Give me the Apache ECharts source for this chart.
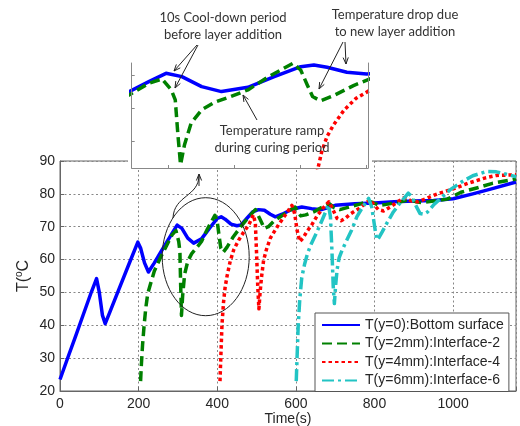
<!DOCTYPE html>
<html>
<head>
<meta charset="utf-8">
<script src="https://cdn.jsdelivr.net/npm/echarts@6/dist/echarts.min.js"></script>
<style>
html, body { margin: 0; padding: 0; background: #fff; }
#chart { width: 520px; height: 426px; }
</style>
</head>
<body>
<div id="chart"></div>
<script>
// Data (time in s, temperature in C)
var seriesNames = ['T(y=0):Bottom surface', 'T(y=2mm):Interface-2', 'T(y=4mm):Interface-4', 'T(y=6mm):Interface-6'];

var timeBottom = [0, 20, 40, 60, 80, 93, 100, 108, 115, 125, 150, 175, 198, 205, 215, 225, 240, 255, 270, 285, 298, 310, 325, 340, 360, 380, 400, 410, 420, 435, 450, 460, 475, 490, 505, 520, 535, 548, 565, 590, 615, 640, 665, 700, 750, 800, 850, 900, 950, 1000, 1050, 1100, 1160];
var tempBottom = [23.5, 30.2, 36.8, 43.5, 50.2, 54.2, 50, 43, 40.5, 43.5, 51, 58.5, 65.3, 63.5, 59, 56.2, 59, 62, 65, 68, 70.5, 69.5, 66.5, 65, 66.3, 69.5, 72.5, 73, 72.3, 70.8, 70.3, 70.5, 72.5, 74.5, 75.2, 75, 73.8, 73, 73.8, 75.3, 76, 75.5, 75.2, 76.5, 77, 77.2, 77.6, 77.8, 78, 78.5, 80, 81.6, 83.6];

var timeIf2 = [205, 207, 210, 214, 218, 223, 230, 240, 255, 270, 285, 295, 302, 305, 307, 309, 312, 317, 325, 335, 347, 360, 375, 394, 400, 405, 409, 415, 425, 440, 460, 480, 497, 508, 520, 530, 545, 570, 598, 605, 612, 625, 645, 665, 685, 697, 712, 730, 760, 785, 797, 812, 830, 860, 890, 905, 920, 950, 985, 1020, 1060, 1100, 1160];
var tempIf2 = [23, 28, 34, 40, 45, 49.5, 52.5, 56.5, 60.5, 64, 67.5, 68.8, 65.5, 62.5, 52, 43, 49, 55.5, 59.5, 61.8, 63.5, 65.5, 69.3, 73.5, 71.5, 67, 63.5, 62.2, 63.8, 66.8, 70, 73, 75.2, 72.5, 69.5, 70, 71.8, 73.8, 76, 74.5, 73.3, 73.6, 74.5, 75.8, 77, 75.8, 75.2, 75.8, 76.8, 77.8, 77.3, 76.5, 76.8, 77.4, 78.3, 77.6, 77.3, 77.8, 78.4, 80.5, 81.8, 83.2, 84.5];

var timeIf4 = [407, 409, 412, 416, 420, 425, 433, 442, 455, 467, 480, 492, 497, 500, 503, 506, 509, 513, 518, 525, 535, 545, 557, 570, 590, 597, 603, 610, 618, 628, 640, 655, 670, 684, 695, 705, 715, 725, 740, 760, 789, 800, 810, 823, 840, 858, 875, 885, 895, 910, 930, 960, 1000, 1040, 1080, 1110, 1160];
var tempIf4 = [23, 30, 40, 47, 51.5, 55, 59.5, 63, 66, 68.3, 70.5, 73.6, 71, 62, 52, 45, 50, 55, 59.8, 63, 66.5, 68.5, 70.8, 73, 76.5, 74, 69, 65.5, 66.5, 68.5, 70.5, 73.5, 75.8, 77.6, 75, 72.5, 71.8, 72.5, 74, 75.5, 78.2, 76.5, 75.2, 74.8, 76, 77.5, 78.8, 78.3, 77.8, 77.6, 78.5, 80, 81.5, 83.3, 84.8, 85.6, 85.8];

var timeIf6 = [601, 603, 606, 610, 615, 622, 630, 640, 652, 665, 683, 688, 692, 695, 698, 701, 705, 710, 718, 730, 742, 755, 770, 785, 793, 798, 803, 806, 812, 820, 832, 848, 865, 886, 895, 905, 916, 925, 935, 950, 970, 992, 1020, 1050, 1085, 1110, 1135, 1160];
var tempIf6 = [23, 30, 40, 48, 54.5, 58.5, 62, 65, 68, 71.5, 76.6, 73, 62, 52, 46.6, 52, 57, 60.5, 63, 66, 69, 73, 76, 78.6, 76, 72, 68, 66, 66.8, 68.5, 71.2, 74.5, 77.2, 80.2, 79.2, 76.5, 74, 73.8, 74.5, 76.6, 78.8, 81.2, 83.5, 85.5, 86.8, 86.7, 86, 85.2];

var xTicks = [0, 200, 400, 600, 800, 1000];
var yTicks = [20, 30, 40, 50, 60, 70, 80, 90];
var insetXTicks = [300, 350, 400, 450];
var insetYTicks = [50, 60, 70];

function pairs(t, v) {
    return t.map(function (x, i) { return [x, v[i]]; });
}

var styles = [
    { color: '#0000ff', type: 'solid' },
    { color: '#008000', type: [10, 5] },
    { color: '#ff0000', type: [3.5, 3] },
    { color: '#22c4c4', type: [12, 4, 3, 4] }
];
var allData = [
    pairs(timeBottom, tempBottom),
    pairs(timeIf2, tempIf2),
    pairs(timeIf4, tempIf4),
    pairs(timeIf6, tempIf6)
];

var series = [];
// main plot, then the zoomed inset (same data, other axes)
[0, 1].forEach(function (g) {
    allData.forEach(function (d, i) {
        series.push({
            name: seriesNames[i], type: 'line', data: d,
            xAxisIndex: g, yAxisIndex: g,
            symbol: 'none', showSymbol: false, smooth: false,
            color: styles[i].color,
            lineStyle: { width: 3.5, color: styles[i].color, type: styles[i].type, join: 'round' },
            z: g ? 10 : 2
        });
    });
});

// annotation helpers
function arrow(x1, y1, x2, y2) {
    var a = Math.atan2(y2 - y1, x2 - x1), s = 7, w = 0.38;
    return [
        { type: 'line', z: 20, shape: { x1: x1, y1: y1, x2: x2, y2: y2 }, style: { stroke: '#222', lineWidth: 1 } },
        { type: 'polyline', z: 20, shape: { points: [
            [x2 - s * Math.cos(a - w), y2 - s * Math.sin(a - w)], [x2, y2],
            [x2 - s * Math.cos(a + w), y2 - s * Math.sin(a + w)]] },
          style: { stroke: '#222', lineWidth: 1, fill: null } }
    ];
}
function note(x, y, txt) {
    return { type: 'text', z: 20, x: x, y: y,
        style: { text: txt, align: 'center', verticalAlign: 'middle', font: '13px Lato', fill: '#333', lineHeight: 17 } };
}

var graphics = [
    { type: 'rect', z: 5, shape: { x: 128, y: 0, width: 244, height: 169.5 }, style: { fill: '#fff' } },
    { type: 'ellipse', z: 20, shape: { cx: 205.7, cy: 256.7, rx: 43.5, ry: 59 }, style: { stroke: '#222', lineWidth: 1, fill: null } },
    { type: 'bezierCurve', z: 20, shape: { x1: 173, y1: 218, cpx1: 174, cpy1: 195, cpx2: 199, cpy2: 197, x2: 199, y2: 175 }, style: { stroke: '#222', lineWidth: 1, fill: null } },
    note(223, 26.5, '10s Cool-down period\nbefore layer addition'),
    note(395, 23.7, 'Temperature drop due\nto new layer addition'),
    note(272, 139, 'Temperature ramp\nduring curing period')
];
graphics = graphics
    .concat(arrow(199, 186, 199, 174))
    .concat(arrow(197, 45, 174, 71))
    .concat(arrow(198, 45, 175, 88))
    .concat(arrow(345, 42, 346, 64))
    .concat(arrow(343, 42, 319, 89))
    .concat(arrow(257, 120, 243, 95));

var labelFont = { fontFamily: 'Liberation Sans', fontSize: 14, color: '#262626' };

var option = {
    backgroundColor: '#fff',
    animation: false,
    grid: [
        { left: 60, top: 161, right: 4, bottom: 35, outerBoundsMode: 'none', containLabel: false,
          show: true, borderColor: '#666', borderWidth: 1, backgroundColor: 'transparent' },
        { left: 131.7, top: 63, right: 152, bottom: 258, outerBoundsMode: 'none', containLabel: false }
    ],
    legend: {
        orient: 'vertical', left: 315, top: 313,
        itemWidth: 38, itemHeight: 14, itemGap: 4.5,
        padding: [5, 5, 4, 6],
        backgroundColor: '#fff', borderColor: '#555', borderWidth: 1,
        itemStyle: { opacity: 0 },
        textStyle: labelFont,
        data: seriesNames
    },
    xAxis: [
        {
            type: 'value', gridIndex: 0, min: 0, max: 1160, interval: 200,
            name: 'Time(s)', nameLocation: 'middle', nameGap: 21, nameMoveOverlap: false,
            nameTextStyle: labelFont,
            axisLine: { show: true, lineStyle: { color: '#666' } },
            axisTick: { show: true, inside: true, length: 4, lineStyle: { color: '#666' } },
            axisLabel: Object.assign({ margin: 6, formatter: function (v) { return xTicks.indexOf(v) >= 0 ? v : ''; } }, labelFont),
            splitLine: { show: true, lineStyle: { color: '#888', type: [2, 2.5] } }
        },
        {
            type: 'value', gridIndex: 1, min: 272, max: 451, z: 12,
            axisLine: { show: true, lineStyle: { color: '#888' } },
            axisTick: { show: true, inside: true, length: 3, customValues: insetXTicks, lineStyle: { color: '#888' } },
            axisLabel: { show: false },
            splitLine: { show: false }
        }
    ],
    yAxis: [
        {
            type: 'value', gridIndex: 0, min: 20, max: 90, interval: 10,
            name: '{a|T(}{b|o}{a|C}', nameLocation: 'middle', nameGap: 27, nameMoveOverlap: false,
            nameTextStyle: {
                rich: {
                    a: { fontFamily: 'Liberation Sans', fontSize: 16, color: '#262626' },
                    b: { fontFamily: 'Liberation Sans', fontSize: 10, color: '#262626', padding: [0, 0, 9, 0] }
                }
            },
            axisLine: { show: true, lineStyle: { color: '#666' } },
            axisTick: { show: true, inside: true, length: 4, lineStyle: { color: '#666' } },
            axisLabel: Object.assign({ margin: 5, formatter: function (v) { return yTicks.indexOf(v) >= 0 ? v : ''; } }, labelFont),
            splitLine: { show: true, lineStyle: { color: '#888', type: [2, 2.5] } }
        },
        {
            type: 'value', gridIndex: 1, min: 42, max: 73.6, z: 12,
            axisLine: { show: true, lineStyle: { color: '#888' } },
            axisTick: { show: true, inside: true, length: 3, customValues: insetYTicks, lineStyle: { color: '#888' } },
            axisLabel: { show: false },
            splitLine: { show: false }
        },
        {
            type: 'value', gridIndex: 1, min: 42, max: 73.6, z: 12, position: 'right',
            axisLine: { show: true, lineStyle: { color: '#888' } },
            axisTick: { show: false },
            axisLabel: { show: false },
            splitLine: { show: false }
        }
    ],
    graphic: graphics,
    series: series
};

var chart = echarts.init(document.getElementById('chart'));
chart.setOption(option);
</script>
</body>
</html>
